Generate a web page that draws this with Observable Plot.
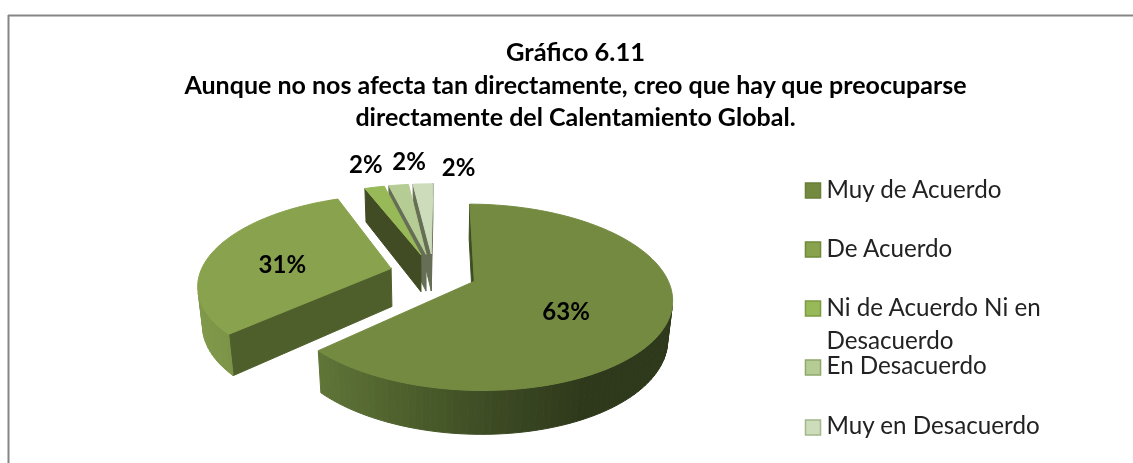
<!DOCTYPE html>
<html><head><meta charset="utf-8">
<style>html,body{margin:0;padding:0;background:#fff;overflow:hidden}svg{display:block;filter:blur(0.55px)}</style>
<script src="https://cdn.jsdelivr.net/npm/d3@7"></script>
<script src="https://cdn.jsdelivr.net/npm/@observablehq/plot@0.6"></script>
</head><body><div id="chart"></div>
<script>
const titleLines = ["Gráfico 6.11","Aunque no nos afecta tan directamente, creo que hay que preocuparse","directamente del Calentamiento Global."];
const categories = ["Muy de Acuerdo","De Acuerdo","Ni de Acuerdo Ni en Desacuerdo","En Desacuerdo","Muy en Desacuerdo"];
const values = [63,31,2,2,2];
const legendLines = [["Muy de Acuerdo"],["De Acuerdo"],["Ni de Acuerdo Ni en","Desacuerdo"],["En Desacuerdo"],["Muy en Desacuerdo"]];
const topColors = ["#748a41","#88a24d","#98b958","#b5cc95","#cddcba"];
const borderColors = ["#6a7f3a","#6f8a3b","#7d9c42","#8fa86a","#a3b88a"];
const cutColors = ["#3d4d22","#4f5f2c","#414c24","#666f55","#666f55"];
const wallStops = [
  {t:[0,0.25,0.5,0.75,1],c:["#2e391b","#2e391b","#3c4a23","#4d5f2c","#5f7537"]},
  {t:[0,1],c:["#6e8640","#7f9849"]},
  {t:[0,1],c:["#414c24","#414c24"]},
  {t:[0,1],c:["#666f55","#666f55"]},
  {t:[0,1],c:["#666f55","#666f55"]}
];
const labelRadius = [0.45,0.58,1.2,1.2,1.2];
const labelNudge = [[8,14],[-5,8],[-1,-11],[15,-11],[37,-4]];
const legendRows = [190,249,308,367,427];
const titleRowsY = [52,85,117];
const titleSizes = [25.5,25,25];

// view geometry
const W=1133,H=463,cx=433,cy=272.5,s=191,a=87.6,k=0.169,m=0.02,h=39,explode=0.23,rot=0.5*Math.PI/180;
const project=(X,Y,Z)=>{const w=1+k*Y+m*Z;return [cx+s*X/w, cy-a*Y/w+h*Z/w];};
const pie=d3.pie().sort(null).startAngle(rot).endAngle(rot+2*Math.PI)(values);
const area=pts=>{let A=0;pts.forEach((p,i)=>{const q=pts[(i+1)%pts.length];A+=p[0]*q[1]-q[0]*p[1];});return A/2;};

const sliceFaces=[], labels=[];
pie.forEach((d,i)=>{
  const faces=[];
  const mid=(d.startAngle+d.endAngle)/2, ox=explode*Math.sin(mid), oy=explode*Math.cos(mid);
  const n=Math.max(4,Math.round((d.endAngle-d.startAngle)*30));
  const ring=d3.range(n+1).map(j=>d.startAngle+(d.endAngle-d.startAngle)*j/n);
  const pt=(th,Z)=>project(ox+Math.sin(th),oy+Math.cos(th),Z);
  const ap=Z=>project(ox,oy,Z);
  const col=d3.scaleLinear().domain(wallStops[i].t).range(wallStops[i].c);
  const f1=[ap(0),pt(d.startAngle,0),pt(d.startAngle,1),ap(1)];
  const f2=[pt(d.endAngle,0),ap(0),ap(1),pt(d.endAngle,1)];
  if(area(f1)<0)faces.push({pts:f1,c:cutColors[i]});
  if(area(f2)<0)faces.push({pts:f2,c:cutColors[i]});
  const xs=ring.map(th=>pt(th,0)[0]);const xmin=d3.min(xs),xmax=d3.max(xs);
  ring.slice(0,-1).forEach((th,j)=>{
    const t2=ring[j+1],q=[pt(th,0),pt(t2,0),pt(t2,1),pt(th,1)];
    if(area(q)<0)faces.push({pts:q,c:d3.color(col(1-((q[0][0]+q[1][0])/2-xmin)/(xmax-xmin))).formatHex()});
  });
  faces.push({pts:[ap(0),...ring.map(th=>pt(th,0))],c:topColors[i]});
  sliceFaces.push(faces);
  const r=labelRadius[i],lp=project(ox+r*Math.sin(mid),oy+r*Math.cos(mid),0);
  labels.push({x:lp[0]+labelNudge[i][0],y:lp[1]+labelNudge[i][1],t:values[i]+"%"});
});
// far slices first
const polys=[];let pid=0;
[4,3,2,1,0].forEach(i=>sliceFaces[i].forEach(f=>{
  const id=pid++;[...f.pts,f.pts[0]].forEach(p=>polys.push({x:p[0],y:p[1],id,c:f.c}));
}));

const titleRows=titleLines.map((t,i)=>({t,y:titleRowsY[i],size:titleSizes[i]}));
const legendData=categories.map((c,i)=>({c,y:legendRows[i],fill:topColors[i],stroke:borderColors[i]}));
const legendText=legendLines.flatMap((ls,i)=>ls.map((t,j)=>({t,y:legendRows[i]+j*33-(i>2?1.5:0)})));
const fnt="Lato, Carlito, sans-serif";
const plot=Plot.plot({
  width:W,height:H,margin:0,
  x:{domain:[0,W],range:[0,W],axis:null},
  y:{domain:[0,H],range:[0,H],axis:null},
  marks:[
    Plot.ruleY([15],{x1:8,x2:W,stroke:"#868686",strokeWidth:2}),
    Plot.ruleX([8],{y1:15,y2:H,stroke:"#868686",strokeWidth:2}),
    Plot.line(polys,{x:"x",y:"y",z:"id",fill:"c",stroke:"c",strokeWidth:1}),
    Plot.text(titleRows,{x:()=>575,y:"y",text:"t",fontFamily:fnt,fontWeight:700,fontSize:"size",fill:"#000"}),
    Plot.text(labels,{x:"x",y:"y",text:"t",fontFamily:fnt,fontWeight:700,fontSize:24,fill:"#000"}),
    Plot.dot(legendData,{x:()=>812.5,y:"y",symbol:"square",r:8.5,fill:"fill",stroke:"stroke",strokeWidth:1.5}),
    Plot.text(legendText,{x:()=>826,y:"y",text:"t",textAnchor:"start",fontFamily:fnt,fontSize:24.2,fill:"#222"})
  ]
});
document.getElementById("chart").append(plot);
</script>
</body></html>
